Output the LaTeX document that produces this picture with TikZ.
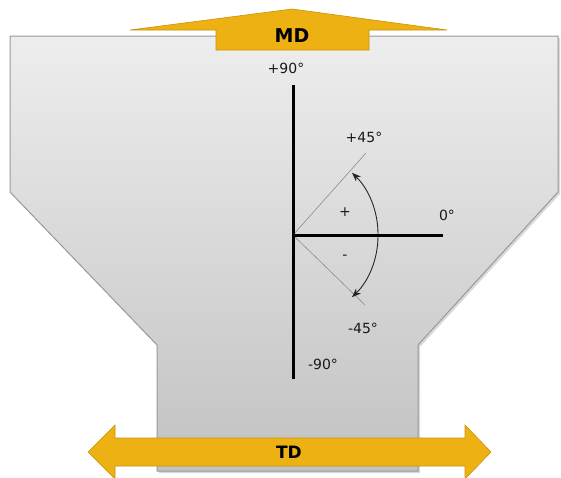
\documentclass[tikz,border=0pt]{standalone}
\usepackage{fontspec}
\setmainfont{DejaVu Sans}
\usetikzlibrary{arrows.meta,calc}
\definecolor{gold}{HTML}{EDB113}
\definecolor{golddark}{HTML}{C9920C}
\tikzset{
  body/.style={draw=black!40, line width=1pt, top color=black!7, bottom color=black!24},
  bigarrow/.style={fill=gold, draw=golddark, line width=0.6pt, line join=miter},
  axis/.style={line width=3pt, black},
  guide/.style={draw=black!45, line width=0.6pt},
  sweep/.style={line width=0.9pt, black!85, -{Stealth[length=9pt,width=7pt]}},
  lbl/.style={font=\fontsize{14}{16}\selectfont, text=black!90},
  bold/.style={font=\fontsize{19}{21}\selectfont\bfseries}
}
\begin{document}
\begin{tikzpicture}[x=1pt,y=-1pt]
\useasboundingbox (0,0) rectangle (561,477);
% body shadow
\fill[black!15] (12,38) -- (560,38) -- (560,194) -- (420,347) -- (420,473) -- (159,473) -- (159,347) -- (12,194) -- cycle;
\path[body] (10,36) -- (558,36) -- (558,192) -- (418,345) -- (418,471) -- (157,471) -- (157,345) -- (10,192) -- cycle;
% MD arrow
\path[bigarrow] (292,9) -- (447,30) -- (369,30) -- (369,50) -- (216,50) -- (216,30) -- (130,30) -- cycle;
\node[bold] (md) at (292,36) {MD};
% TD arrow
\path[bigarrow] (88,452) -- (115,425) -- (115,438) -- (465,438) -- (465,425) -- (491,452) -- (465,479) -- (465,466) -- (115,466) -- (115,479) -- cycle;
\node[bold, font=\fontsize{17}{19}\selectfont\bfseries] (td) at (289,452) {TD};
% axes
\coordinate (o) at (293,235);
\coordinate (top) at (293,85);
\coordinate (bot) at (293,379);
\coordinate (right) at (443,235);
\coordinate (p45) at (366,153);
\coordinate (m45) at (365,305);
\draw[guide] (o) -- (p45);
\draw[guide] (o) -- (m45);
\draw[axis] (top) -- (bot);
\draw[axis] (o) -- (right);
% sweep arcs (r = 85)
\draw[sweep] ($(o)+(85,-1)$) arc[start angle=0, end angle=-46, radius=85];
\draw[sweep] ($(o)+(85,1)$) arc[start angle=0, end angle=46, radius=85];
% labels
\node[lbl] (l90) at (286,68) {+90°};
\node[lbl] (l45) at (364,137) {+45°};
\node[lbl] (lplus) at (345,212) {+};
\node[lbl] (l0) at (447,215) {0°};
\node[lbl] (lminus) at (345,257) {-};
\node[lbl] (lm45) at (363,328) {-45°};
\node[lbl] (lm90) at (323,364) {-90°};
\end{tikzpicture}
\end{document}
